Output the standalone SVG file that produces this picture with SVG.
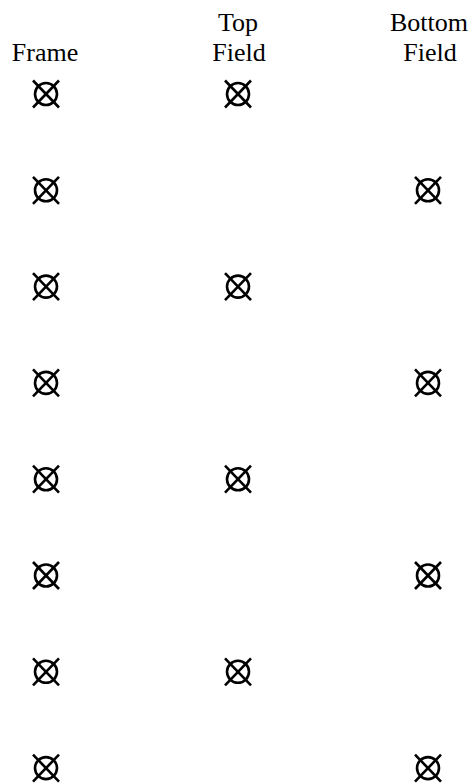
<svg xmlns="http://www.w3.org/2000/svg" xmlns:xlink="http://www.w3.org/1999/xlink" width="472" height="783" viewBox="0 0 472 783">
<style>
.lbl{font-family:"Liberation Serif","Times New Roman",serif;font-size:26px;fill:#000;text-anchor:middle}
.sym{fill:none;stroke:#000;stroke-width:2.6}
</style>
<defs>
<g id="ox" class="sym">
<circle cx="0" cy="0" r="11"/>
<line x1="-13" y1="-13.5" x2="13" y2="13.5"/>
<line x1="13" y1="-13.5" x2="-13" y2="13.5"/>
</g>
</defs>
<rect width="472" height="783" fill="#fff"/>
<g id="headers">
<text class="lbl" x="45" y="61">Frame</text>
<text class="lbl" x="238" y="31">Top</text>
<text class="lbl" x="239" y="61">Field</text>
<text class="lbl" x="429" y="31">Bottom</text>
<text class="lbl" x="430" y="61">Field</text>
</g>
<g id="frame-col">
<use id="f1" xlink:href="#ox" x="46" y="94"/>
<use id="f2" xlink:href="#ox" x="46" y="190.3"/>
<use id="f3" xlink:href="#ox" x="46" y="286.6"/>
<use id="f4" xlink:href="#ox" x="46" y="382.9"/>
<use id="f5" xlink:href="#ox" x="46" y="479.2"/>
<use id="f6" xlink:href="#ox" x="46" y="575.5"/>
<use id="f7" xlink:href="#ox" x="46" y="671.8"/>
<use id="f8" xlink:href="#ox" x="46" y="768.1"/>
</g>
<g id="top-col">
<use id="t1" xlink:href="#ox" x="238" y="94"/>
<use id="t3" xlink:href="#ox" x="238" y="286.6"/>
<use id="t5" xlink:href="#ox" x="238" y="479.2"/>
<use id="t7" xlink:href="#ox" x="238" y="671.8"/>
</g>
<g id="bottom-col">
<use id="b2" xlink:href="#ox" x="428" y="190.3"/>
<use id="b4" xlink:href="#ox" x="428" y="382.9"/>
<use id="b6" xlink:href="#ox" x="428" y="575.5"/>
<use id="b8" xlink:href="#ox" x="428" y="768.1"/>
</g>
</svg>
